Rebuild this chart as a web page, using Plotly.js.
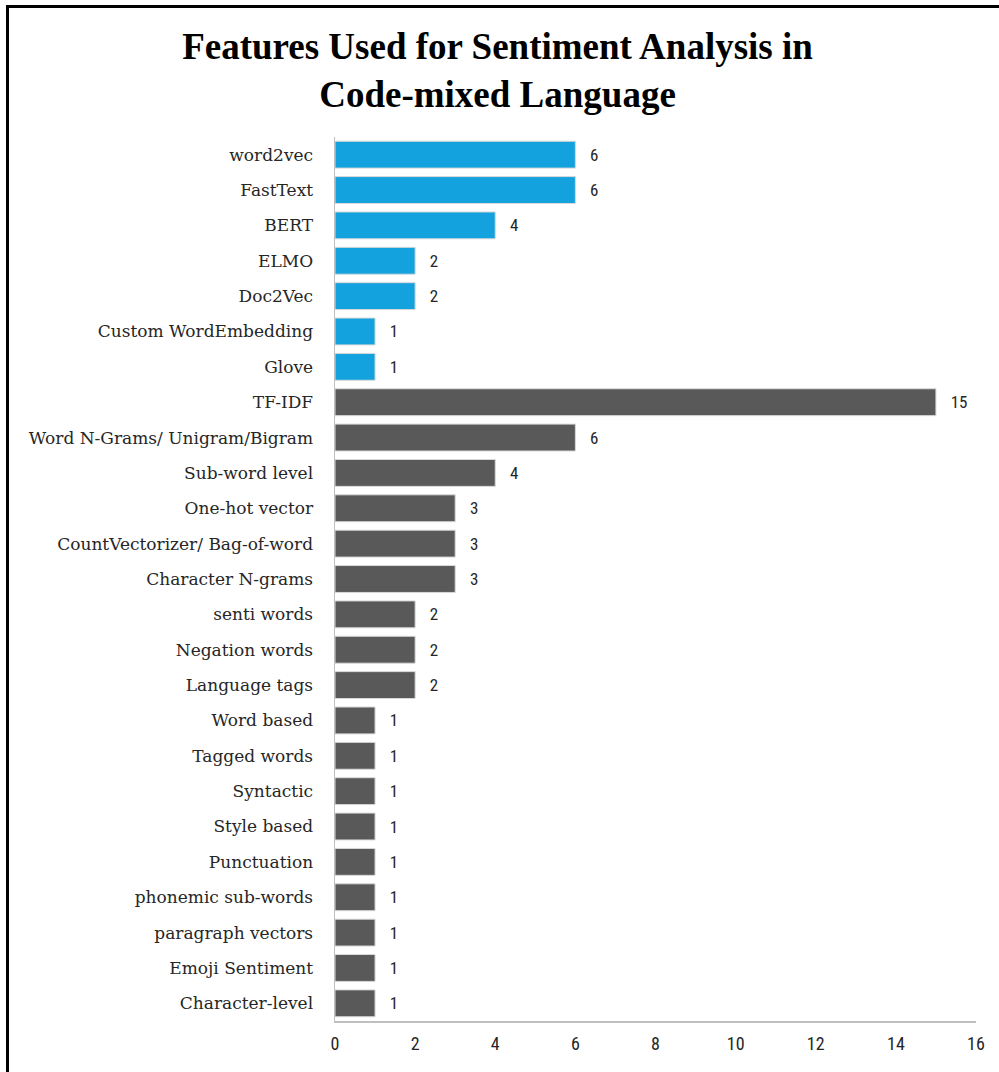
<!DOCTYPE html>
<html>
<head>
<meta charset="utf-8">
<script src="https://cdn.plot.ly/plotly-3.0.1.min.js"></script>
<style>
html, body { margin: 0; padding: 0; background: #fff; }
#frame { position: absolute; left: 6px; top: 5px; width: 1000px; height: 1080px; border-left: 3px solid #000; border-top: 3px solid #000; box-sizing: border-box; pointer-events: none; z-index: 5; }
#chart { position: absolute; left: 0; top: 0; width: 999px; height: 1072px; }
</style>
</head>
<body>
<div id="chart"></div>
<div id="frame"></div>
<script>
const categories = [
  "word2vec", "FastText", "BERT", "ELMO", "Doc2Vec", "Custom WordEmbedding", "Glove",
  "TF-IDF", "Word N-Grams/ Unigram/Bigram", "Sub-word level", "One-hot vector",
  "CountVectorizer/ Bag-of-word", "Character N-grams", "senti words", "Negation words",
  "Language tags", "Word based", "Tagged words", "Syntactic", "Style based",
  "Punctuation", "phonemic sub-words", "paragraph vectors", "Emoji Sentiment", "Character-level"
];
const counts = [6, 6, 4, 2, 2, 1, 1, 15, 6, 4, 3, 3, 3, 2, 2, 2, 1, 1, 1, 1, 1, 1, 1, 1, 1];
const groups = ["embedding", "embedding", "embedding", "embedding", "embedding", "embedding", "embedding",
  "other", "other", "other", "other", "other", "other", "other", "other", "other", "other", "other",
  "other", "other", "other", "other", "other", "other", "other"];
const xTicks = [0, 2, 4, 6, 8, 10, 12, 14, 16];

const groupColor = { embedding: "#14a2de", other: "#595959" };
const barColors = groups.map(g => groupColor[g]);

const trace = {
  type: "bar",
  orientation: "h",
  y: categories,
  x: counts,
  marker: { color: barColors, line: { color: "#d9d9d9", width: 1 } },
  text: counts.map(v => "\u00a0\u00a0\u00a0" + v),
  textposition: "outside",
  cliponaxis: false,
  textfont: { family: "Liberation Sans Narrow, Roboto Condensed, Roboto", size: 17, color: "#262626" },
  hoverinfo: "skip"
};

const layout = {
  width: 999,
  height: 1072,
  margin: { l: 335, r: 23, t: 137, b: 51, autoexpand: false },
  paper_bgcolor: "#ffffff",
  plot_bgcolor: "#ffffff",
  bargap: 0.24,
  showlegend: false,
  title: {
    text: "<b>Features Used for Sentiment Analysis in<br>Code-mixed Language</b>",
    x: 0.498, xref: "container", xanchor: "center",
    y: 1 - 59 / 1072, yref: "container", yanchor: "middle",
    font: { family: "Liberation Serif", size: 37, color: "#000000" }
  },
  xaxis: {
    range: [0, 16],
    tickvals: xTicks,
    ticktext: xTicks.map(String),
    showgrid: false,
    zeroline: false,
    showline: true,
    linecolor: "#bfbfbf",
    linewidth: 1.5,
    ticks: "outside",
    ticklen: 6,
    tickcolor: "rgba(0,0,0,0)",
    tickfont: { family: "Liberation Sans Narrow, Roboto Condensed, Roboto", size: 18, color: "#262626" },
    fixedrange: true
  },
  yaxis: {
    type: "category",
    categoryorder: "array",
    categoryarray: categories,
    autorange: "reversed",
    showgrid: false,
    zeroline: false,
    showline: true,
    linecolor: "#bfbfbf",
    linewidth: 1.5,
    ticks: "outside",
    ticklen: 17,
    tickcolor: "rgba(0,0,0,0)",
    tickfont: { family: "DejaVu Serif", size: 17, color: "#262626" },
    fixedrange: true
  }
};

Plotly.newPlot("chart", [trace], layout, { displayModeBar: false, staticPlot: true });
</script>
</body>
</html>
